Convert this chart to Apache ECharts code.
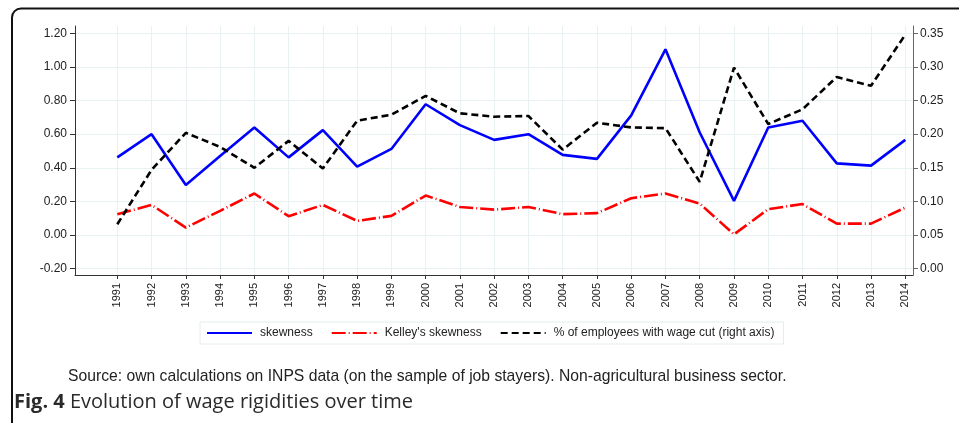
<!DOCTYPE html>
<html><head><meta charset="utf-8">
<script src="https://cdn.jsdelivr.net/npm/echarts@6/dist/echarts.min.js"></script>
<style>html,body{margin:0;padding:0;background:#fff}#c{width:959px;height:423px}</style>
</head><body><div id="c"></div>
<script>
const years = [1991,1992,1993,1994,1995,1996,1997,1998,1999,2000,2001,2002,2003,2004,2005,2006,2007,2008,2009,2010,2011,2012,2013,2014];
const skewness = [0.462,0.600,0.297,0.470,0.640,0.462,0.624,0.407,0.512,0.778,0.654,0.566,0.600,0.477,0.453,0.712,1.105,0.610,0.203,0.640,0.680,0.426,0.413,0.566];
const kelley = [0.124,0.179,0.044,0.144,0.247,0.112,0.179,0.084,0.114,0.235,0.167,0.151,0.167,0.124,0.130,0.219,0.247,0.187,0.004,0.154,0.184,0.068,0.068,0.163];
const wageCut = [0.066,0.147,0.202,0.181,0.150,0.190,0.149,0.220,0.229,0.257,0.231,0.226,0.227,0.177,0.217,0.210,0.209,0.129,0.299,0.215,0.237,0.285,0.272,0.348];
const leftTicks = [-0.2,0,0.2,0.4,0.6,0.8,1.0,1.2];
const rightTicks = [0,0.05,0.1,0.15,0.2,0.25,0.3,0.35];
const names = ['skewness', "Kelley's skewness", '% of employees with wage cut (right axis)'];
const sourceText = 'Source: own calculations on INPS data (on the sample of job stayers). Non-agricultural business sector.';
const captionBold = 'Fig. 4';
const captionText = 'Evolution of wage rigidities over time';

const pair = arr => years.map((y, i) => [y, arr[i]]);
const font = 'Liberation Sans';
const chart = echarts.init(document.getElementById('c'), null, {renderer: 'canvas'});
chart.setOption({
  animation: false,
  backgroundColor: '#fff',
  grid: {left: 75, right: 46, top: 26, bottom: 148, containLabel: false},
  legend: {
    data: names, left: 200, top: 322, orient: 'horizontal',
    itemWidth: 45, itemHeight: 12, itemGap: 18, padding: [5, 9, 5, 6],
    borderColor: '#e3ecee', borderWidth: 1,
    itemStyle: {opacity: 0},
    textStyle: {fontSize: 12, color: '#222', fontFamily: font, padding: [0, 0, 0, 3]}
  },
  xAxis: {
    type: 'value', min: 1989.765, max: 2014.225,
    axisLine: {onZero: false, lineStyle: {color: '#333', width: 1}},
    axisTick: {show: true, customValues: years, length: 4, lineStyle: {color: '#333'}},
    axisLabel: {customValues: years, rotate: 90, margin: 8, fontSize: 11, color: '#222', fontFamily: font, formatter: v => String(v)},
    splitLine: {show: true, lineStyle: {color: '#e9f1f3', width: 1}}
  },
  yAxis: [{
    type: 'value', position: 'left', min: -0.238, max: 1.2437,
    axisLine: {show: true, onZero: false, lineStyle: {color: '#333'}},
    axisTick: {show: true, customValues: leftTicks, length: 5, lineStyle: {color: '#333'}},
    axisLabel: {customValues: leftTicks, margin: 8, fontSize: 12, color: '#222', fontFamily: font, formatter: v => Number(v).toFixed(2)},
    splitLine: {show: true, lineStyle: {color: '#e9f1f3', width: 1}}
  }, {
    type: 'value', position: 'right', min: -0.0095, max: 0.3609,
    axisLine: {show: true, onZero: false, lineStyle: {color: '#666'}},
    axisTick: {show: true, customValues: rightTicks, length: 5, lineStyle: {color: '#666'}},
    axisLabel: {customValues: rightTicks, margin: 7, fontSize: 12, color: '#222', fontFamily: font, formatter: v => Number(v).toFixed(2)},
    splitLine: {show: false}
  }],
  series: [{
    name: names[0], type: 'line', yAxisIndex: 0, symbol: 'none', data: pair(skewness),
    lineStyle: {color: '#0000ff', width: 2.6}, itemStyle: {color: '#0000ff'}
  }, {
    name: names[1], type: 'line', yAxisIndex: 0, symbol: 'none', data: pair(kelley),
    lineStyle: {color: '#ff0000', width: 2.6, type: [14, 3, 1, 3]}, itemStyle: {color: '#ff0000'}
  }, {
    name: names[2], type: 'line', yAxisIndex: 1, symbol: 'none', data: pair(wageCut),
    lineStyle: {color: '#000', width: 2.6, type: [7, 4]}, itemStyle: {color: '#000'}
  }],
  graphic: [{
    type: 'rect', silent: true, z: 100,
    shape: {x: 12, y: 8.5, width: 1000, height: 600, r: 9},
    style: {fill: 'none', stroke: '#111', lineWidth: 2}
  }, {
    type: 'text', x: 68, y: 376.5, silent: true,
    style: {text: sourceText, fontSize: 15.7, fontFamily: font, fill: '#222', verticalAlign: 'middle'}
  }, {
    type: 'text', x: 14, y: 402, silent: true,
    style: {
      text: '{b|' + captionBold + '} ' + captionText,
      fontSize: 20, fontFamily: 'Open Sans', fill: '#2a2a2a', verticalAlign: 'middle',
      rich: {b: {fontWeight: 'bold', fontSize: 20, fontFamily: 'Open Sans', fill: '#2a2a2a'}}
    }
  }]
});
</script></body></html>
